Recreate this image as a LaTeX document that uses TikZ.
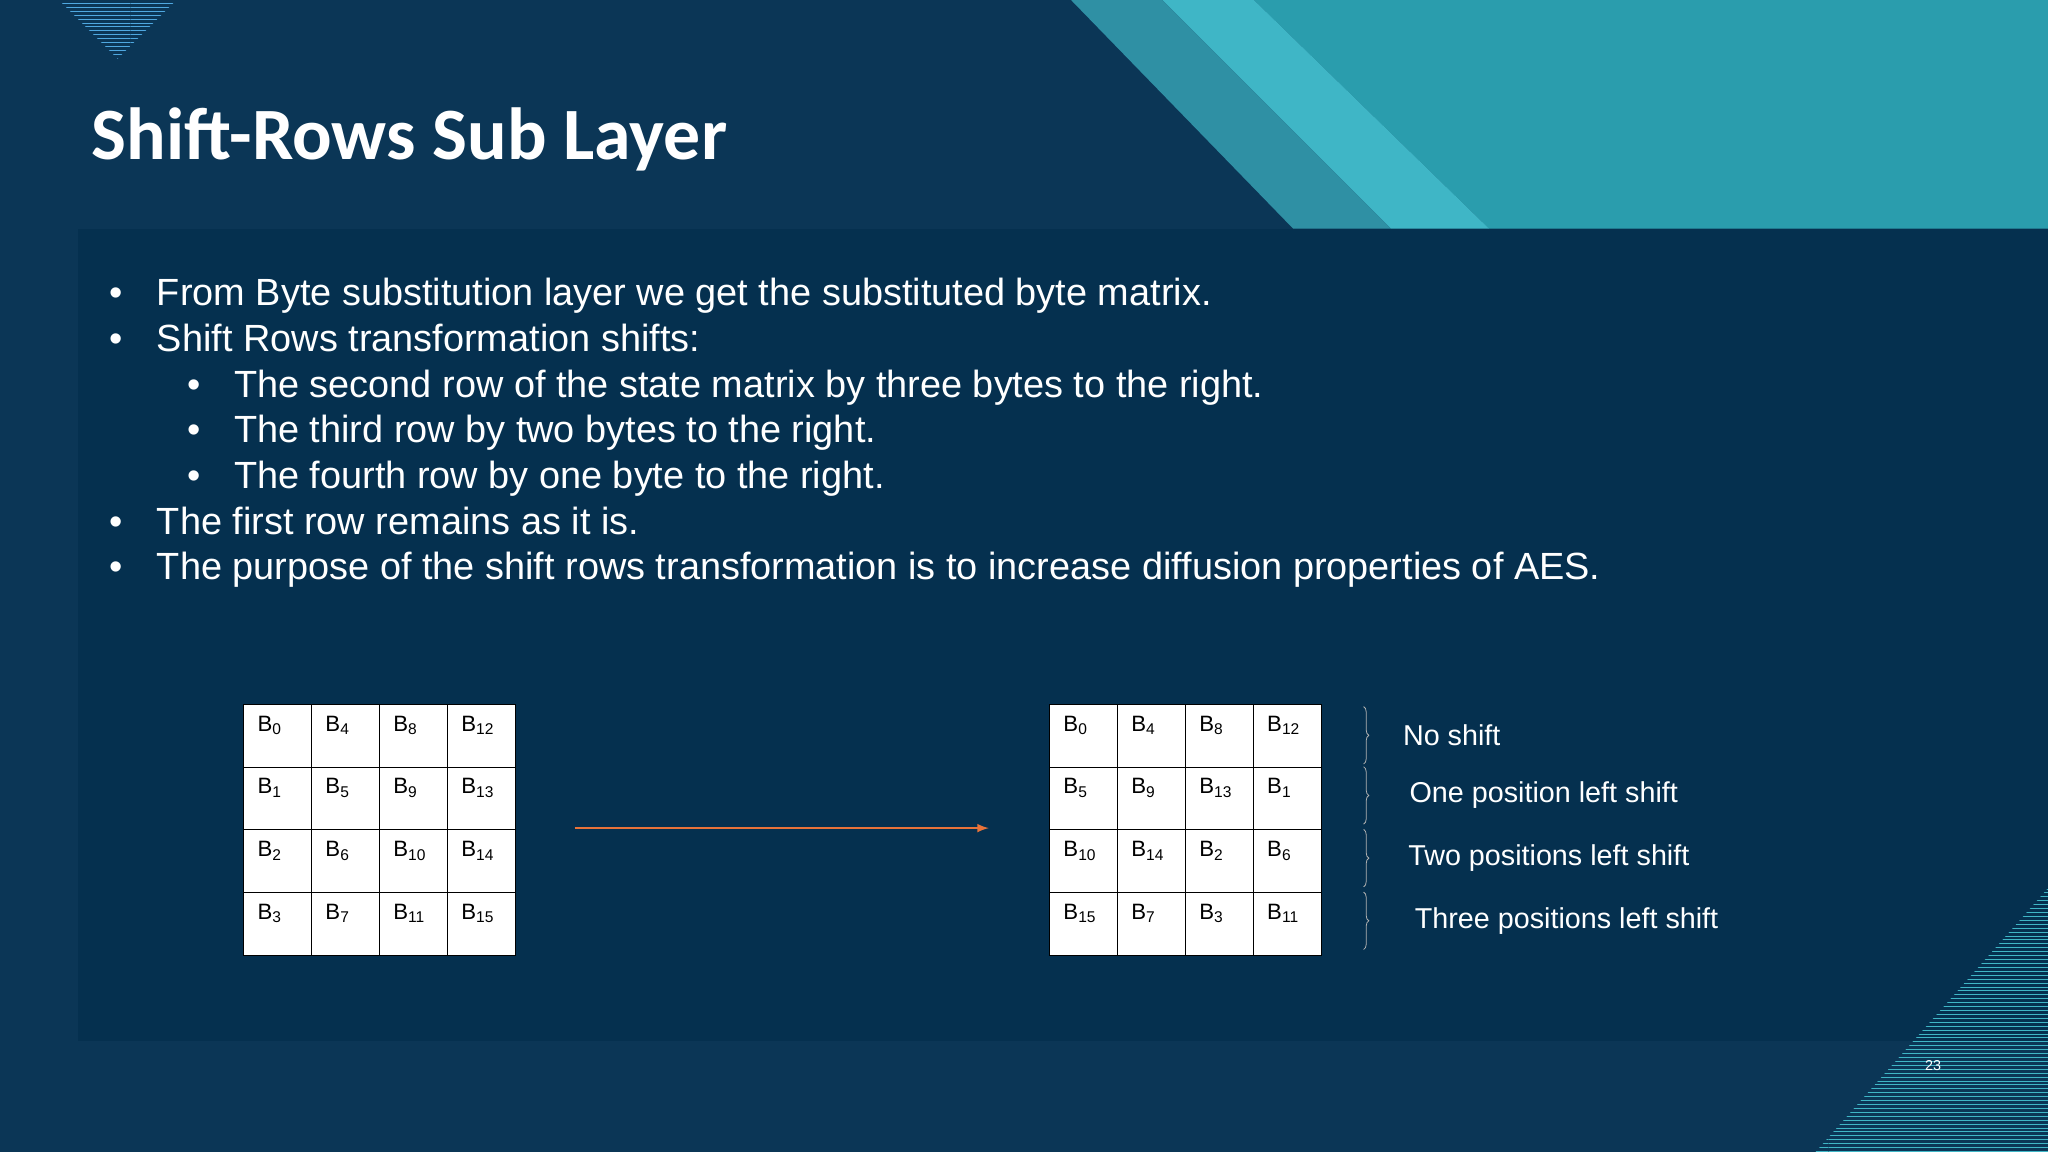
\documentclass[tikz,border=0pt]{standalone}
\usepackage{fontspec}
\setmainfont{Liberation Sans}
\newfontfamily\titlefont{Carlito}
\usetikzlibrary{patterns,decorations.pathreplacing}
\definecolor{navy}{HTML}{0B3656}
\definecolor{panel}{HTML}{05304F}
\definecolor{lteal}{HTML}{3FB6C6}
\definecolor{dteal}{HTML}{2A9DAD}
\definecolor{stripe}{HTML}{4FA8E0}
\definecolor{arrowc}{HTML}{E8733A}
\tikzset{
  cell/.style={draw=black,fill=white,minimum width=52pt,minimum height=48pt,anchor=north west,inner sep=0pt,line width=0.8pt},
  celltxt/.style={font=\fontsize{17}{17}\selectfont,text=black,anchor=north west,inner sep=0pt},
  btxt/.style={font=\fontsize{29}{29}\selectfont,text=white,anchor=base west,inner sep=0pt},
  lbl/.style={font=\fontsize{22}{22}\selectfont,text=white,anchor=west,inner sep=0pt},
  brc/.style={draw=gray!60,line width=0.6pt,decorate,decoration={brace,amplitude=4pt}}
}
\begin{document}
\begin{tikzpicture}[x=1pt,y=-1pt]
\useasboundingbox (0,0) rectangle (1568,882);
\fill[navy] (0,0) rectangle (1568,882);
\fill[panel] (60,175) rectangle (1568,797);
\fill[dteal] (960,0) -- (1568,0) -- (1568,175) -- (1140,175) -- cycle;
\fill[lteal] (890,0) -- (960,0) -- (1140,175) -- (1065,175) -- cycle;
\fill[lteal!70!navy] (820,0) -- (890,0) -- (1065,175) -- (990,175) -- cycle;
\fill[pattern=horizontal lines,pattern color=stripe] (45,0) -- (135,0) -- (90,45) -- cycle;
\fill[pattern=horizontal lines,pattern color=lteal] (1390,882) -- (1568,680) -- (1568,882) -- cycle;
\node[anchor=base west,inner sep=0pt,text=white,font=\titlefont\bfseries\fontsize{56.5}{56}\selectfont] (title) at (70,122) {Shift-Rows Sub Layer};
% bullets
\foreach \y/\bx/\tx/\t [count=\i] in {
 224/84/120/{From Byte substitution layer we get the substituted byte matrix.},
 259/84/120/{Shift Rows transformation shifts:},
 294/143/179/{The second row of the state matrix by three bytes to the right.},
 329/143/179/{The third row by two bytes to the right.},
 364/143/179/{The fourth row by one byte to the right.},
 399/84/120/{The first row remains as it is.},
 434/84/120/{The purpose of the shift rows transformation is to increase diffusion properties of AES.}}{
  \node[btxt] (d\i) at (\bx,\y+10) {•};
  \node[btxt] (b\i) at (\tx,\y+10) {\t};
}
% matrices
\foreach \r/\row in {0/{0,4,8,12},1/{1,5,9,13},2/{2,6,10,14},3/{3,7,11,15}}{
  \foreach \v [count=\c from 0] in \row {
    \node[cell] (L\r\c) at (186+52*\c,539+48*\r) {};
    \node[celltxt] (Lt\r\c) at (197+52*\c,548+48*\r) {B\textsubscript{\v}};
  }
}
\foreach \r/\row in {0/{0,4,8,12},1/{5,9,13,1},2/{10,14,2,6},3/{15,7,3,11}}{
  \foreach \v [count=\c from 0] in \row {
    \node[cell] (R\r\c) at (803+52*\c,539+48*\r) {};
    \node[celltxt] (Rt\r\c) at (814+52*\c,548+48*\r) {B\textsubscript{\v}};
  }
}
\coordinate (a1) at (440,634);
\coordinate (a2) at (757,634);
\draw[arrowc,line width=2pt,-latex] (a1) -- (a2);
% braces
\foreach \i/\y/\x/\t in {0/563/1074/No shift,1/609/1079/One position left shift,2/657/1078/Two positions left shift,3/705/1083/Three positions left shift}{
  \coordinate (u\i) at (1044,\y-22);
  \coordinate (w\i) at (1044,\y+22);
  \draw[brc] (u\i) -- (w\i);
  \node[lbl] (l\i) at (\x,\y) {\t};
}
\node[text=white!80,font=\fontsize{11}{11}\selectfont] (pg) at (1480,816) {23};
\end{tikzpicture}
\end{document}
